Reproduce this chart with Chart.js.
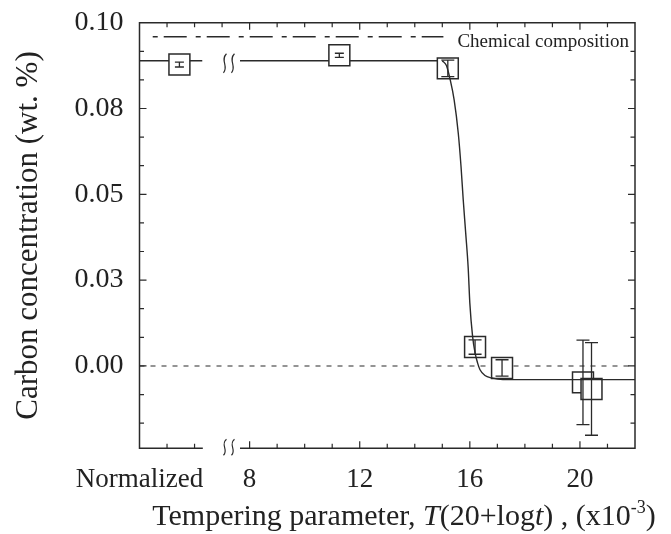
<!DOCTYPE html>
<html><head><meta charset="utf-8">
<script src="https://cdn.jsdelivr.net/npm/chart.js@4.4.0/dist/chart.umd.min.js"></script>
<style>html,body{margin:0;padding:0;background:#fff;}</style>
</head><body>
<canvas id="c" width="671" height="534" style="display:block;width:671px;height:534px"></canvas>
<script>
// ---------- data ----------
const sampleX = [5.45, 11.26, 15.2, 16.19, 17.17, 20.11, 20.42];
const sampleY = [0.0878, 0.0905, 0.0867, 0.0055, -0.0006, -0.0048, -0.0067];
const sampleErr = [0.0007, 0.0006, 0.0024, 0.0021, 0.0024, 0.0123, 0.0135];

const fitFlatX = [4, 6.28, 7.0, 7.65, 15.0];
const fitFlatY = [0.0889, 0.0889, null, 0.0889, 0.0889];

const fitDropX = [15.0, 15.15, 15.28, 15.43, 15.58, 15.68, 15.76, 15.85, 15.94, 16.0, 16.1, 16.19, 16.28, 16.37, 16.55, 16.79, 17.2, 22];
const fitDropY = [0.0889, 0.0875, 0.0836, 0.0775, 0.0678, 0.0581, 0.0484, 0.0387, 0.0286, 0.0183, 0.0086, 0.0038, 0.0009, -0.0011, -0.0028, -0.0035, -0.0040, -0.0040];

const chemX = [4.48, 15.04];
const chemY = [0.0959, 0.0959];
const chemLabel = 'Chemical composition';

const zeroX = [4, 22];
const zeroY = [0, 0];

const xMajorTicks = [4, 8, 12, 16, 20];
const xTickLabels = ['Normalized', '8', '12', '16', '20'];
const yMajorTicks = [0, 0.025, 0.05, 0.075, 0.1];
const yTickLabels = ['0.00', '0.03', '0.05', '0.08', '0.10'];
const xBreakGap = [6.3, 7.65];
const xBreakMark = 7.25;

const yTitle = 'Carbon concentration (wt. %)';

// ---------- helpers ----------
const pts = (xs, ys) => xs.map((x, i) => ({x: x, y: ys[i]}));
const INK = '#2a2a2a';
const SERIF = '"Liberation Serif", "Times New Roman", serif';

function drawBreak(ctx, cx, cy, h) {
  ctx.save();
  ctx.strokeStyle = INK;
  ctx.lineWidth = 1.2;
  [-4, 4].forEach(function (dx) {
    const x0 = cx + dx;
    ctx.beginPath();
    ctx.moveTo(x0 + 1.5, cy - h / 2);
    ctx.bezierCurveTo(x0 - 5, cy - h / 6, x0 + 4, cy + h / 6, x0 - 1.5, cy + h / 2);
    ctx.stroke();
  });
  ctx.restore();
}

const decor = {
  id: 'decor',
  afterDatasetsDraw(chart) {
    const ctx = chart.ctx, xs = chart.scales.x, ys = chart.scales.y;
    ctx.save();
    ctx.strokeStyle = INK;
    ctx.lineWidth = 1.3;
    sampleX.forEach(function (xv, i) {
      const px = xs.getPixelForValue(xv);
      const t = ys.getPixelForValue(sampleY[i] + sampleErr[i]);
      const b = ys.getPixelForValue(sampleY[i] - sampleErr[i]);
      const w = i < 2 ? 4.5 : 6.5;
      ctx.beginPath();
      ctx.moveTo(px, t); ctx.lineTo(px, b);
      ctx.moveTo(px - w, t); ctx.lineTo(px + w, t);
      ctx.moveTo(px - w, b); ctx.lineTo(px + w, b);
      ctx.stroke();
    });
    ctx.restore();
  },
  afterDraw(chart) {
    const ctx = chart.ctx, xs = chart.scales.x, ys = chart.scales.y;
    const a = chart.chartArea;
    ctx.save();
    ctx.strokeStyle = INK;
    ctx.lineWidth = 1.5;
    ctx.beginPath();
    ctx.moveTo(xs.getPixelForValue(xBreakGap[0]), a.bottom);
    ctx.lineTo(a.left, a.bottom);
    ctx.lineTo(a.left, a.top);
    ctx.lineTo(a.right, a.top);
    ctx.lineTo(a.right, a.bottom);
    ctx.lineTo(xs.getPixelForValue(xBreakGap[1]), a.bottom);
    ctx.stroke();
    ctx.lineWidth = 1.2;
    ctx.beginPath();
    for (let v = Math.ceil(xs.min); v <= xs.max; v++) {
      if (v <= xs.min || v >= xs.max) continue;
      const px = xs.getPixelForValue(v);
      const len = xMajorTicks.indexOf(v) >= 0 ? 7 : 4.5;
      ctx.moveTo(px, a.top); ctx.lineTo(px, a.top + len);
      if (v > xBreakGap[0] && v < xBreakGap[1]) continue;
      ctx.moveTo(px, a.bottom); ctx.lineTo(px, a.bottom - len);
    }
    const step = (yMajorTicks[1] - yMajorTicks[0]) / 3;
    for (let k = -3; k <= 12; k++) {
      const v = k * step;
      if (v <= ys.min + 1e-9 || v >= ys.max - 1e-9) continue;
      const py = ys.getPixelForValue(v);
      const len = (k % 3 === 0) ? 7 : 4.5;
      ctx.moveTo(a.left, py); ctx.lineTo(a.left + len, py);
      ctx.moveTo(a.right, py); ctx.lineTo(a.right - len, py);
    }
    ctx.stroke();
    ctx.restore();
    drawBreak(ctx, xs.getPixelForValue(xBreakMark), a.bottom - 1, 16);
    drawBreak(ctx, xs.getPixelForValue(xBreakMark), ys.getPixelForValue(fitFlatY[0]) + 2.5, 19);
    ctx.save();
    ctx.fillStyle = '#222';
    ctx.font = '19px ' + SERIF;
    ctx.textAlign = 'left';
    ctx.textBaseline = 'alphabetic';
    ctx.fillText(chemLabel, xs.getPixelForValue(chemX[1]) + 14, ys.getPixelForValue(chemY[0]) + 10);
    ctx.restore();
    const segs = [
      {t: 'Tempering parameter, ', f: '30px ' + SERIF, dy: 0},
      {t: 'T', f: 'italic 30px ' + SERIF, dy: 0},
      {t: '(20+log', f: '30px ' + SERIF, dy: 0},
      {t: 't', f: 'italic 30px ' + SERIF, dy: 0},
      {t: ') , (x10', f: '30px ' + SERIF, dy: 0},
      {t: '-3', f: '18px ' + SERIF, dy: -12},
      {t: ')', f: '30px ' + SERIF, dy: 0}
    ];
    ctx.save();
    ctx.fillStyle = '#222';
    ctx.textBaseline = 'alphabetic';
    ctx.textAlign = 'left';
    let total = 0;
    segs.forEach(function (s) { ctx.font = s.f; s.w = ctx.measureText(s.t).width; total += s.w; });
    let x = 404 - total / 2;
    const base = 525;
    segs.forEach(function (s) { ctx.font = s.f; ctx.fillText(s.t, x, base + s.dy); x += s.w; });
    ctx.restore();
  }
};

new Chart(document.getElementById('c'), {
  type: 'scatter',
  data: {
    datasets: [
      {type: 'line', data: pts(zeroX, zeroY), borderColor: INK, borderWidth: 1.1, borderDash: [5, 6], pointRadius: 0, order: 6},
      {type: 'line', data: pts(chemX, chemY), borderColor: INK, borderWidth: 1.3, borderDash: [5, 6, 23, 9], pointRadius: 0, order: 6},
      {type: 'line', data: pts(fitFlatX, fitFlatY), borderColor: INK, borderWidth: 1.4, pointRadius: 0, spanGaps: false, order: 5},
      {type: 'scatter', data: pts(sampleX, sampleY), pointStyle: 'rect', pointRadius: 14.8, backgroundColor: '#fff', borderColor: INK, borderWidth: 1.5, order: 3, clip: false},
      {type: 'line', data: pts(fitDropX, fitDropY), borderColor: INK, borderWidth: 1.4, pointRadius: 0, cubicInterpolationMode: 'monotone', order: 1}
    ]
  },
  options: {
    responsive: false,
    devicePixelRatio: 1,
    animation: false,
    events: [],
    layout: {padding: {top: 22.7, right: 36, left: 0, bottom: 0}},
    plugins: {legend: {display: false}, tooltip: {enabled: false}},
    scales: {
      x: {
        type: 'linear', min: 4, max: 22,
        border: {display: false},
        grid: {display: false, drawTicks: false},
        afterBuildTicks: function (s) { s.ticks = xMajorTicks.map(function (v) { return {value: v}; }); },
        afterFit: function (s) { s.height = 534 - 448.3; s.paddingLeft = 0; s.paddingRight = 0; },
        ticks: {
          autoSkip: false, maxRotation: 0, padding: 15, color: '#222',
          font: {family: SERIF, size: 27},
          callback: function (v) { const i = xMajorTicks.indexOf(v); return i >= 0 ? xTickLabels[i] : ''; }
        }
      },
      y: {
        type: 'linear', min: -0.024, max: 0.1,
        border: {display: false},
        grid: {display: false, drawTicks: false},
        afterBuildTicks: function (s) { s.ticks = yMajorTicks.map(function (v) { return {value: v}; }); },
        afterFit: function (s) { s.width = 139.5; s.paddingTop = 0; s.paddingBottom = 0; },
        title: {display: true, text: yTitle, color: '#222', font: {family: SERIF, size: 31}, padding: {top: 10, bottom: 0}},
        ticks: {
          autoSkip: false, padding: 16, color: '#222',
          font: {family: SERIF, size: 28},
          callback: function (v) { const i = yMajorTicks.indexOf(v); return i >= 0 ? yTickLabels[i] : ''; }
        }
      }
    }
  },
  plugins: [decor]
});
</script>
</body></html>
